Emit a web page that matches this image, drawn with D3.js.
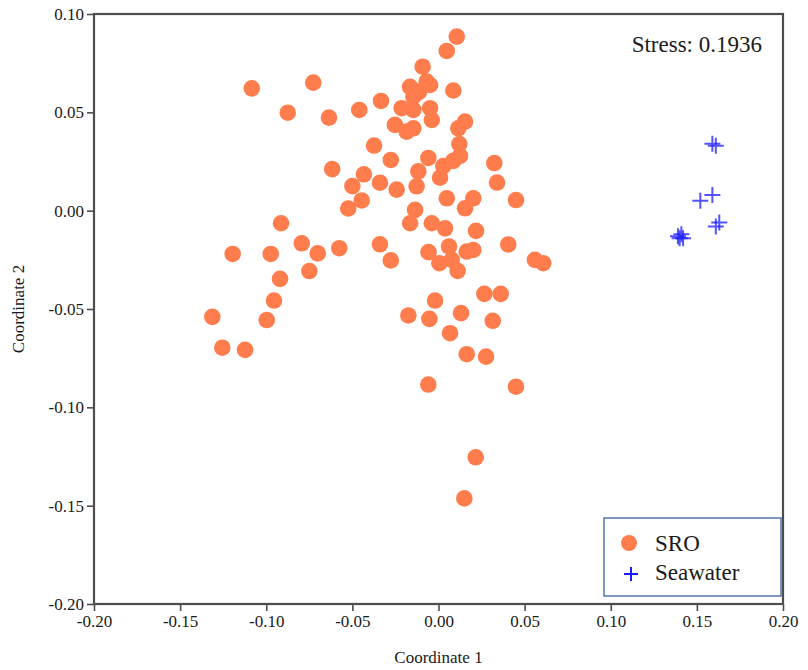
<!DOCTYPE html>
<html>
<head>
<meta charset="utf-8">
<script src="https://cdn.jsdelivr.net/npm/d3@7"></script>
<style>
  body { margin: 0; background: #fff; }
  svg text { font-family: "Liberation Serif", "DejaVu Serif", serif; fill: #1a1a1a; }
</style>
</head>
<body>
<svg id="chart" width="808" height="670"></svg>
<script>
// MDS coordinates
const sroPoints = [
  [0.0106, 0.0885], [0.0048, 0.0812], [-0.1084, 0.0622], [-0.0727, 0.0651],
  [-0.0875, 0.0498], [-0.0636, 0.0473], [-0.046, 0.0512], [-0.0334, 0.0558],
  [-0.0092, 0.0732], [-0.0165, 0.063], [-0.0069, 0.0656], [-0.0049, 0.0639],
  [-0.0146, 0.058], [-0.0113, 0.0604], [-0.0214, 0.0521], [-0.0146, 0.0512],
  [-0.0253, 0.0436], [-0.0146, 0.0419], [-0.0185, 0.0402], [-0.0049, 0.0521],
  [-0.0039, 0.0461], [0.0086, 0.0611], [0.0154, 0.0453], [0.0115, 0.0419],
  [0.0121, 0.0339], [0.0125, 0.0279], [0.0086, 0.0253], [0.0028, 0.0227],
  [0.0009, 0.0168], [-0.0059, 0.0268], [-0.0117, 0.02], [-0.0127, 0.0124],
  [-0.0243, 0.0107], [-0.0374, 0.0331], [-0.0277, 0.0258], [-0.0617, 0.0211],
  [-0.0433, 0.0185], [-0.05, 0.0125], [-0.034, 0.0142], [-0.0446, 0.0052],
  [-0.0524, 0.0011], [0.0324, 0.0242], [0.034, 0.0143], [0.0048, 0.0063],
  [0.0202, 0.0063], [0.0154, 0.0012], [0.045, 0.0054], [-0.0136, 0.0004],
  [-0.0165, -0.0064], [-0.0039, -0.0064], [0.0038, -0.009], [0.0218, -0.0103],
  [0.0405, -0.0172], [-0.0914, -0.0064], [-0.0058, -0.0211], [0.0061, -0.0182],
  [0.0077, -0.025], [0.0005, -0.0267], [0.0111, -0.0306], [0.0164, -0.0208],
  [0.0202, -0.02], [0.056, -0.025], [0.0608, -0.0267], [-0.1195, -0.022],
  [-0.0974, -0.022], [-0.0794, -0.0166], [-0.0701, -0.0217], [-0.0576, -0.0191],
  [-0.034, -0.0171], [-0.0277, -0.0253], [-0.075, -0.0307], [-0.092, -0.0347],
  [-0.0955, -0.0457], [-0.1313, -0.054], [-0.0997, -0.0556], [-0.1255, -0.0697],
  [-0.1123, -0.0708], [-0.002, -0.0457], [-0.0175, -0.0533], [-0.0053, -0.055],
  [0.0131, -0.0521], [0.0266, -0.0423], [0.0361, -0.0423], [0.0315, -0.056],
  [0.0067, -0.0623], [0.0164, -0.073], [0.0276, -0.0742], [-0.0059, -0.0884],
  [0.045, -0.0895], [0.0216, -0.1254], [0.015, -0.1463]
];

const seawaterPoints = [
  [0.159, 0.034], [0.161, 0.033], [0.159, 0.008], [0.152, 0.005],
  [0.163, -0.006], [0.161, -0.008], [0.139, -0.013], [0.141, -0.012],
  [0.142, -0.014], [0.140, -0.014]
];

const xTicks = [-0.20, -0.15, -0.10, -0.05, 0.00, 0.05, 0.10, 0.15, 0.20];
const yTicks = [0.10, 0.05, 0.00, -0.05, -0.10, -0.15, -0.20];
const legendItems = ["SRO", "Seawater"];
const stressLabel = "Stress: 0.1936";

const SRO_COLOR = "#ff7d4d";
const SEA_COLOR = "#1a1aff";
const AXIS_COLOR = "#4d4d4d";

// hyphen minus like the original, not d3's unicode minus
const fmtTick = (d) => d.toFixed(2);

const svg = d3.select("#chart");
const margin = { top: 14, right: 25, bottom: 66, left: 94 };
const width = 808, height = 670;
const innerW = width - margin.left - margin.right;
const innerH = height - margin.top - margin.bottom;

const x = d3.scaleLinear().domain([-0.2, 0.2]).range([0, innerW]);
const y = d3.scaleLinear().domain([-0.2, 0.1]).range([innerH, 0]);

const g = svg.append("g").attr("transform", `translate(${margin.left},${margin.top})`);

// frame
g.append("rect")
  .attr("width", innerW).attr("height", innerH)
  .attr("fill", "none").attr("stroke", AXIS_COLOR).attr("stroke-width", 2.2);

const gx = g.append("g")
  .attr("transform", `translate(0,${innerH})`)
  .call(d3.axisBottom(x).tickValues(xTicks).tickFormat(fmtTick).tickSize(7).tickPadding(4));
const gy = g.append("g")
  .call(d3.axisLeft(y).tickValues(yTicks).tickFormat(fmtTick).tickSize(7).tickPadding(3));

[gx, gy].forEach((ax) => {
  ax.select(".domain").remove();
  ax.selectAll("line").attr("stroke", AXIS_COLOR).attr("stroke-width", 1.6);
  ax.selectAll("text")
    .attr("fill", "#1a1a1a")
    .style("font-family", '"Liberation Serif", serif')
    .style("font-size", "17px");
});

// SRO circles
g.append("g").selectAll("circle")
  .data(sroPoints)
  .join("circle")
  .attr("cx", (d) => x(d[0]))
  .attr("cy", (d) => y(d[1]))
  .attr("r", 8.3)
  .attr("fill", SRO_COLOR);

// seawater plus marks
g.append("g").selectAll("path")
  .data(seawaterPoints)
  .join("path")
  .attr("transform", (d) => `translate(${x(d[0])},${y(d[1])})`)
  .attr("d", "M-8,0H8M0,-8V8")
  .attr("stroke", SEA_COLOR)
  .attr("stroke-width", 2)
  .attr("stroke-opacity", 0.75)
  .attr("fill", "none");

// stress label
svg.append("text")
  .attr("x", 762).attr("y", 52)
  .attr("text-anchor", "end")
  .style("font-size", "23px")
  .text(stressLabel);

// legend
const lg = svg.append("g");
lg.append("rect")
  .attr("x", 604).attr("y", 518).attr("width", 177).attr("height", 78)
  .attr("fill", "#fff").attr("stroke", "#3d5ea6").attr("stroke-width", 1.3);
lg.append("circle").attr("cx", 629).attr("cy", 543).attr("r", 8).attr("fill", SRO_COLOR);
lg.append("path")
  .attr("transform", "translate(631,574)")
  .attr("d", "M-7,0H7M0,-7V7")
  .attr("stroke", SEA_COLOR).attr("stroke-width", 2);
lg.selectAll("text.leg")
  .data(legendItems)
  .join("text")
  .attr("class", "leg")
  .attr("x", 655)
  .attr("y", (d, i) => 551 + i * 29)
  .style("font-size", "23px")
  .text((d) => d);

// axis titles
svg.append("text")
  .attr("x", margin.left + innerW / 2).attr("y", 663)
  .attr("text-anchor", "middle")
  .style("font-size", "17px")
  .text("Coordinate 1");
svg.append("text")
  .attr("transform", `translate(24,${margin.top + innerH / 2}) rotate(-90)`)
  .attr("text-anchor", "middle")
  .style("font-size", "17px")
  .text("Coordinate 2");
</script>
</body>
</html>
